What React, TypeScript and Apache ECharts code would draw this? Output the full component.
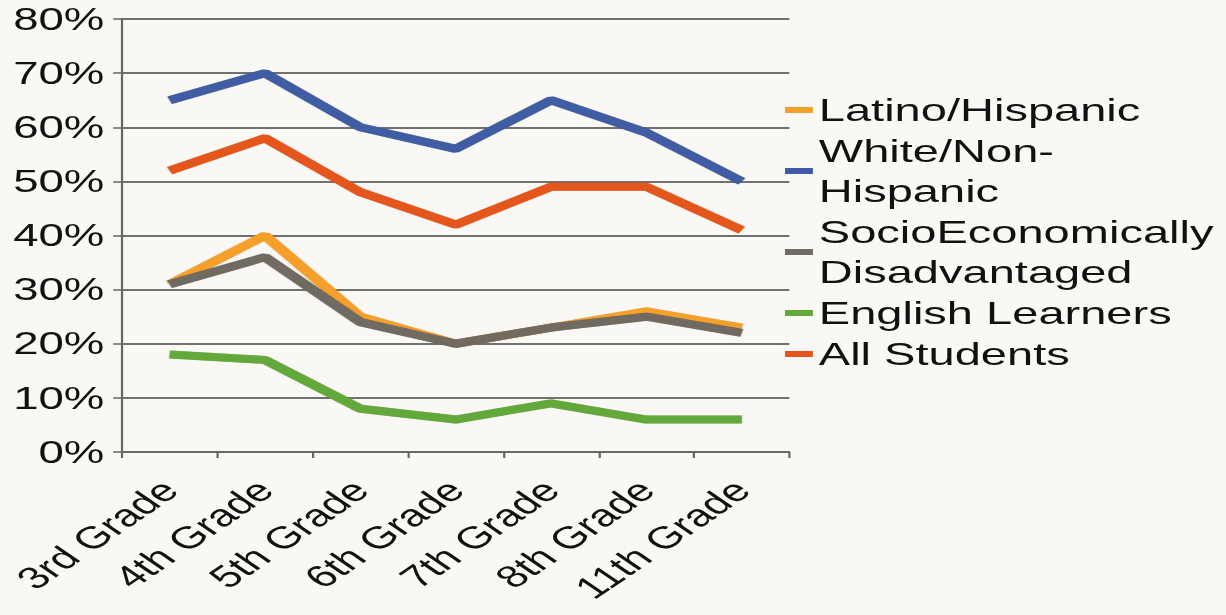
import React, { useEffect, useRef } from "react";
import * as echarts from "echarts";

const categories = ["3rd Grade", "4th Grade", "5th Grade", "6th Grade", "7th Grade", "8th Grade", "11th Grade"];
const seriesNames = ["Latino/Hispanic", "White/Non-Hispanic", "SocioEconomically Disadvantaged", "English Learners", "All Students"];
const legendLabels: Record<string, string> = {
  "Latino/Hispanic": "Latino/Hispanic",
  "White/Non-Hispanic": "White/Non-\nHispanic",
  "SocioEconomically Disadvantaged": "SocioEconomically\nDisadvantaged",
  "English Learners": "English Learners",
  "All Students": "All Students",
};
const latino = [31, 40, 25, 20, 23, 26, 23];
const white = [65, 70, 60, 56, 65, 59, 50];
const socio = [31, 36, 24, 20, 23, 25, 22];
const english = [18, 17, 8, 6, 9, 6, 6];
const allStudents = [52, 58, 48, 42, 49, 49, 41];
const colors = ["#f4a02c", "#3f5ba3", "#716a60", "#62a83b", "#e4561c"];
const yTicks = [0, 10, 20, 30, 40, 50, 60, 70, 80];

const SCALE_X = 1.47;
const W = 1226;
const H = 615;

export default function App() {
  const ref = useRef<HTMLDivElement>(null);
  useEffect(() => {
    if (!ref.current) return;
    const chart = echarts.init(ref.current, undefined, { renderer: "svg" });
    const values = [latino, white, socio, english, allStudents];
    chart.setOption({
      animation: false,
      backgroundColor: "transparent",
      textStyle: { fontFamily: "Liberation Sans, Arial, sans-serif" },
      grid: { left: 83, right: 297, top: 19, bottom: 163, containLabel: false },
      legend: {
        orient: "vertical",
        left: 529,
        top: 85,
        itemGap: 1,
        itemWidth: 19,
        itemHeight: 6,
        icon: "rect",
        data: seriesNames,
        formatter: (name: string) => legendLabels[name] || name,
        textStyle: { fontSize: 32, lineHeight: 40, color: "#111", padding: [0, 0, 0, -1] },
      },
      xAxis: {
        type: "category",
        data: categories,
        boundaryGap: true,
        axisLine: { lineStyle: { color: "#666", width: 1.5 } },
        axisTick: { show: true, length: 6, lineStyle: { color: "#666", width: 1.5 } },
        axisLabel: { rotate: 45, fontSize: 31, color: "#111", margin: 33, interval: 0 },
      },
      yAxis: {
        type: "value",
        min: yTicks[0],
        max: yTicks[yTicks.length - 1],
        interval: 10,
        axisLine: { show: true, lineStyle: { color: "#666", width: 1.5 } },
        axisTick: { show: true, length: 6, lineStyle: { color: "#666", width: 1.5 } },
        axisLabel: { formatter: "{value}%", fontSize: 31, color: "#111", margin: 12 },
        splitLine: { lineStyle: { color: "#444", width: 1.5 } },
      },
      series: seriesNames.map((name, i) => ({
        name,
        type: "line",
        data: values[i],
        symbol: "none",
        color: colors[i],
        lineStyle: { width: 8, color: colors[i], shadowColor: "rgba(0,0,0,0.35)", shadowBlur: 1.5 },
      })),
    });
    return () => chart.dispose();
  }, []);
  return (
    <div style={{ position: "fixed", left: 0, top: 0, width: W, height: H, background: "#f9f8f4", overflow: "hidden" }}>
      <div
        ref={ref}
        style={{ width: W / SCALE_X, height: H, transform: `scaleX(${SCALE_X})`, transformOrigin: "0 0" }}
      />
    </div>
  );
}
